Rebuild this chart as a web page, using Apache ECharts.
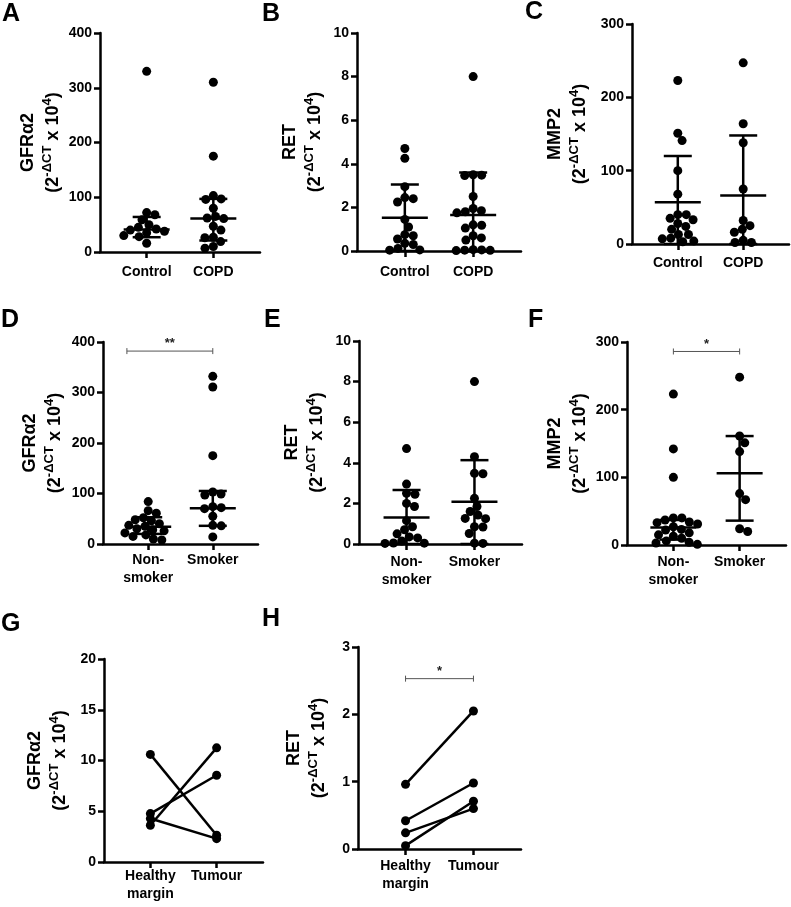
<!DOCTYPE html>
<html>
<head>
<meta charset="utf-8">
<script src="https://cdn.jsdelivr.net/npm/echarts@6/dist/echarts.min.js"></script>
<style>
  html, body { margin: 0; padding: 0; background: #fff; }
  #main { width: 791px; height: 907px; }
</style>
</head>
<body>
<div id="main"></div>
<script>
// categories
var catsCOPD = ['Control', 'COPD'];
var catsSmoke = ['Non-\nsmoker', 'Smoker'];
var catsTumour = ['Healthy\nmargin', 'Tumour'];

// y tick labels
var ticksGFR = [0, 100, 200, 300, 400];
var ticksRET = [0, 2, 4, 6, 8, 10];
var ticksMMP = [0, 100, 200, 300];
var ticksGFRpair = [0, 5, 10, 15, 20];
var ticksRETpair = [0, 1, 2, 3];

// A: GFRa2, Control vs COPD
var aControl = [330, 72, 68, 59, 50, 45, 42, 40, 38, 35, 30, 28, 16];
var aCOPD = [310, 175, 103, 97, 96, 80, 65, 62, 61, 47, 40, 27, 26, 19, 10, 7];
var aBars = [[41, 27, 64], [61, 21, 97]]; // centre, lower, upper

// B: RET, Control vs COPD
var bControl = [4.7, 4.25, 2.95, 2.45, 2.4, 2.25, 1.45, 1.1, 0.75, 0.7, 0.55, 0.35, 0.3, 0.12, 0.05, 0.04];
var bCOPD = [8.0, 3.5, 3.48, 3.46, 2.5, 1.95, 1.85, 1.8, 1.75, 1.2, 1.18, 1.05, 0.7, 0.6, 0.5, 0.06, 0.05, 0.04, 0.03, 0.02];
var bBars = [[1.53, 0, 3.05], [1.65, 0, 3.6]];

// C: MMP2, Control vs COPD
var cControl = [223, 151, 141, 100, 68, 40, 40, 35, 33, 28, 24, 20, 13, 13, 8, 7, 4, 3];
var cCOPD = [247, 164, 138, 75, 32, 25, 20, 16, 5, 2, 2];
var cBars = [[57, 0, 120], [66, 0, 148]];

// D: GFRa2, Non-smoker vs Smoker
var dNon = [84, 66, 61, 52, 48, 46, 40, 37, 35, 30, 28, 26, 22, 18, 15, 10, 8];
var dSmoker = [332, 311, 175, 103, 99, 97, 74, 72, 70, 55, 37, 36, 14];
var dBars = [[34, 20, 53], [71, 36, 105]];
var dSig = [0.67, 2, 382];

// E: RET, Non-smoker vs Smoker
var eNon = [4.7, 2.95, 2.5, 2.45, 2.0, 1.85, 1.15, 0.85, 0.7, 0.5, 0.35, 0.3, 0.15, 0.05, 0.04, 0.03];
var eSmoker = [8.0, 4.3, 3.48, 3.46, 2.25, 1.85, 1.6, 1.43, 1.26, 1.25, 0.85, 0.84, 0.52, 0.04, 0.03];
var eBars = [[1.31, 0, 2.66], [2.08, 0, 4.13]];

// F: MMP2, Non-smoker vs Smoker
var fNon = [223, 142, 100, 40, 40, 37, 34, 33, 31, 27, 23, 22, 18, 15, 13, 10, 6, 4, 3, 1];
var fSmoker = [248, 161, 151, 138, 76, 67, 24, 20];
var fBars = [[26, 8, 37], [106, 36, 161]];
var fSig = [1, 2, 286];

// G: GFRa2 paired, healthy margin vs tumour
var gHealthy = [10.6, 4.77, 3.62, 4.28];
var gTumour = [2.63, 8.55, 11.25, 2.3];

// H: RET paired, healthy margin vs tumour
var hHealthy = [0.96, 0.42, 0.24, 0.05];
var hTumour = [2.05, 0.98, 0.6, 0.71];
var hSig = [1, 2, 2.53];

var FONT = "'Liberation Sans', Arial, Helvetica, sans-serif";
var XMIN = 0.3, XMAX = 2.7;
var DOT = 9;

function axisName(gene) {
  return '{t|' + gene + '}\n{p|(2}{s|-ΔCT}{p| x 10}{s|4}{p|)}';
}

var panels = [
  {key: 'A', grid: {left: 100, top: 33, width: 160, height: 219}, letter: [2, 2], gap: 34, lm: 11, gene: 'GFRα2', ticks: ticksGFR, cats: catsCOPD, groups: [aControl, aCOPD], bars: aBars},
  {key: 'B', grid: {left: 357, top: 33, width: 164, height: 218}, letter: [262, 2], gap: 29, lm: 12, gene: 'RET', ticks: ticksRET, cats: catsCOPD, groups: [bControl, bCOPD], bars: bBars},
  {key: 'C', grid: {left: 632, top: 24, width: 157, height: 220}, letter: [525, 0], gap: 39, lm: 10, gene: 'MMP2', ticks: ticksMMP, cats: catsCOPD, groups: [cControl, cCOPD], bars: cBars},
  {key: 'D', grid: {left: 103, top: 342, width: 155, height: 202}, letter: [1, 308], gap: 35, lm: 7, gene: 'GFRα2', ticks: ticksGFR, cats: catsSmoke, groups: [dNon, dSmoker], bars: dBars, sig: dSig, sigText: '**'},
  {key: 'E', grid: {left: 359, top: 341, width: 163, height: 203}, letter: [264, 308], gap: 29, lm: 9, gene: 'RET', ticks: ticksRET, cats: catsSmoke, groups: [eNon, eSmoker], bars: eBars},
  {key: 'F', grid: {left: 627, top: 342, width: 159, height: 203}, letter: [528, 308], gap: 34, lm: 8, gene: 'MMP2', ticks: ticksMMP, cats: catsSmoke, groups: [fNon, fSmoker], bars: fBars, sig: fSig, sigText: '*'},
  {key: 'G', grid: {left: 104, top: 659, width: 159, height: 203}, letter: [1, 612], gap: 31, lm: 5, gene: 'GFRα2', ticks: ticksGFRpair, cats: catsTumour, pairs: [gHealthy, gTumour]},
  {key: 'H', grid: {left: 358, top: 647, width: 163, height: 202}, letter: [262, 607], gap: 26, lm: 8, gene: 'RET', ticks: ticksRETpair, cats: catsTumour, pairs: [hHealthy, hTumour], sig: hSig, sigText: '*'}
];

// simple beeswarm: spread dots sideways so they do not overlap (pixel space)
function swarm(vals, pxPerY, d) {
  var order = vals.map(function (v, i) { return i; }).sort(function (a, b) { return vals[b] - vals[a]; });
  var placed = [];
  var out = [];
  order.forEach(function (i) {
    var y = vals[i] * pxPerY;
    var cands = [0];
    placed.forEach(function (p) {
      var dy = Math.abs(p.y - y);
      if (dy < d) {
        var dx = Math.sqrt(d * d - dy * dy);
        cands.push(p.x + dx, p.x - dx);
      }
    });
    cands.sort(function (a, b) { return Math.abs(a) - Math.abs(b); });
    var x = 0;
    for (var k = 0; k < cands.length; k++) {
      var c = cands[k];
      var ok = placed.every(function (p) {
        return (p.x - c) * (p.x - c) + (p.y - y) * (p.y - y) >= d * d - 0.01;
      });
      if (ok) { x = c; break; }
    }
    placed.push({x: x, y: y});
    out[i] = x;
  });
  return out;
}

function renderBar(params, api) {
  var x = api.value(0);
  var c = api.coord([x, api.value(1)]);
  var lo = api.coord([x, api.value(2)]);
  var hi = api.coord([x, api.value(3)]);
  var st = {stroke: '#000', lineWidth: 2.5};
  return {
    type: 'group',
    children: [
      {type: 'line', shape: {x1: c[0] - 23, y1: c[1], x2: c[0] + 23, y2: c[1]}, style: st},
      {type: 'line', shape: {x1: lo[0], y1: lo[1], x2: hi[0], y2: hi[1]}, style: st},
      {type: 'line', shape: {x1: hi[0] - 14, y1: hi[1], x2: hi[0] + 14, y2: hi[1]}, style: st},
      {type: 'line', shape: {x1: lo[0] - 14, y1: lo[1], x2: lo[0] + 14, y2: lo[1]}, style: st}
    ]
  };
}

function bracketSeries(idx, sig, label) {
  return {
    type: 'custom',
    xAxisIndex: idx,
    yAxisIndex: idx,
    silent: true,
    data: [sig],
    encode: {x: [0, 1], y: 2},
    renderItem: function (params, api) {
      var p1 = api.coord([api.value(0), api.value(2)]);
      var p2 = api.coord([api.value(1), api.value(2)]);
      var st = {stroke: '#555', lineWidth: 1};
      return {
        type: 'group',
        children: [
          {type: 'line', shape: {x1: p1[0], y1: p1[1], x2: p2[0], y2: p2[1]}, style: st},
          {type: 'line', shape: {x1: p1[0], y1: p1[1] - 3, x2: p1[0], y2: p1[1] + 3}, style: st},
          {type: 'line', shape: {x1: p2[0], y1: p2[1] - 3, x2: p2[0], y2: p2[1] + 3}, style: st},
          {type: 'text', x: (p1[0] + p2[0]) / 2, y: p1[1] - 1, style: {text: label, align: 'center', verticalAlign: 'bottom', font: 'bold 13px ' + FONT, fill: '#222'}}
        ]
      };
    }
  };
}

var grids = [], xAxes = [], yAxes = [], titles = [], series = [];
var lineBlack = {color: '#000', width: 2.5};

panels.forEach(function (p, i) {
  grids.push(Object.assign({containLabel: false, outerBoundsMode: 'none'}, p.grid));
  titles.push({
    text: p.key, left: p.letter[0], top: p.letter[1], padding: 0,
    textStyle: {fontSize: 25, fontWeight: 'bold', color: '#000', fontFamily: FONT}
  });
  var yMax = p.ticks[p.ticks.length - 1];
  xAxes.push({
    gridIndex: i, type: 'value', min: XMIN, max: XMAX,
    splitLine: {show: false},
    axisLine: {show: true, onZero: false, lineStyle: lineBlack},
    axisTick: {show: true, customValues: [1, 2], length: 6, lineStyle: lineBlack},
    axisLabel: {
      customValues: [1, 2], margin: p.lm, color: '#000', fontSize: 14, fontWeight: 'bold',
      fontFamily: FONT, lineHeight: 18,
      formatter: function (v) { return p.cats[Math.round(v) - 1]; }
    }
  });
  yAxes.push({
    gridIndex: i, type: 'value', min: 0, max: yMax, interval: p.ticks[1] - p.ticks[0],
    splitLine: {show: false},
    axisLine: {show: true, onZero: false, lineStyle: lineBlack},
    axisTick: {show: true, length: 6, lineStyle: lineBlack},
    axisLabel: {margin: 8, color: '#000', fontSize: 14, fontWeight: 'bold', fontFamily: FONT},
    name: axisName(p.gene), nameLocation: 'middle', nameRotate: 90, nameGap: p.gap,
    nameTextStyle: {
      color: '#000', fontFamily: FONT,
      rich: {
        t: {fontSize: 18, fontWeight: 'bold', color: '#000', fontFamily: FONT, lineHeight: 25},
        p: {fontSize: 18, fontWeight: 'bold', color: '#000', fontFamily: FONT, lineHeight: 25},
        s: {fontSize: 13, fontWeight: 'bold', color: '#000', fontFamily: FONT, lineHeight: 14, verticalAlign: 'top'}
      }
    }
  });

  var pxPerY = p.grid.height / yMax;
  var pxPerX = p.grid.width / (XMAX - XMIN);

  if (p.groups) {
    p.groups.forEach(function (vals, g) {
      var offs = swarm(vals, pxPerY, DOT - 0.5);
      series.push({
        type: 'scatter', xAxisIndex: i, yAxisIndex: i,
        symbol: 'circle', symbolSize: DOT, silent: true,
        itemStyle: {color: '#000', opacity: 1},
        data: vals.map(function (v, k) { return [g + 1 + offs[k] / pxPerX, v]; })
      });
    });
    series.push({
      type: 'custom', xAxisIndex: i, yAxisIndex: i, silent: true, z: 3,
      renderItem: renderBar,
      encode: {x: 0, y: 1},
      data: p.bars.map(function (b, g) { return [g + 1, b[0], b[1], b[2]]; })
    });
  }

  if (p.pairs) {
    p.pairs[0].forEach(function (v, k) {
      series.push({
        type: 'line', xAxisIndex: i, yAxisIndex: i, silent: true,
        symbol: 'circle', symbolSize: DOT, showSymbol: true,
        lineStyle: {color: '#000', width: 2.5},
        itemStyle: {color: '#000', opacity: 1},
        data: [[1, v], [2, p.pairs[1][k]]]
      });
    });
  }

  if (p.sig) {
    series.push(bracketSeries(i, p.sig, p.sigText));
  }
});

var myChart = echarts.init(document.getElementById('main'), null, {renderer: 'canvas'});
myChart.setOption({
  backgroundColor: '#fff',
  animation: false,
  title: titles,
  grid: grids,
  xAxis: xAxes,
  yAxis: yAxes,
  series: series
});
</script>
</body>
</html>
